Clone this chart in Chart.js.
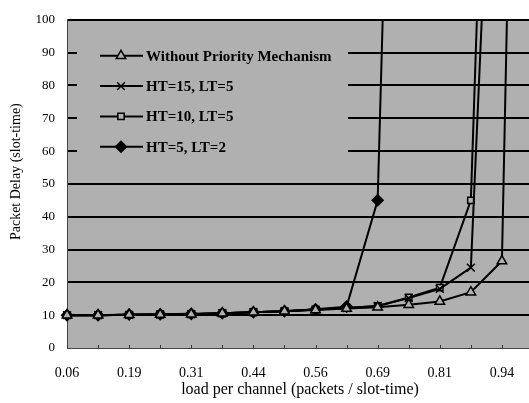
<!DOCTYPE html>
<html>
<head>
<meta charset="utf-8">
<script src="https://cdn.jsdelivr.net/npm/chart.js@4"></script>
<style>
  html, body { margin: 0; padding: 0; background: #fff; overflow: hidden; }
  #wrap { width: 529px; height: 403px; overflow: hidden; }
  /* the plot runs on a little past the right edge, as in the scan */
  #inner { width: 540px; height: 403px; }
</style>
</head>
<body>
<div id="wrap"><div id="inner"><canvas id="chart"></canvas></div></div>
<script>
// load per channel, k/16 for k = 1..16 (every other one is labelled)
const loads = ['0.06', '0.13', '0.19', '0.25', '0.31', '0.38', '0.44', '0.50',
  '0.56', '0.63', '0.69', '0.75', '0.81', '0.88', '0.94', '1.00'];

// packet delay in slot-times (values above 100 run off the top)
const noPriority = [10, 10, 10.1, 10.2, 10.3, 10.6, 10.9, 11.2, 11.6, 12.0, 12.4, 13.2, 14.2, 17.0, 26.5, 485];
const ht15lt5 = [10, 10, 10.1, 10.2, 10.3, 10.6, 10.9, 11.2, 11.7, 12.2, 12.8, 15.2, 18.0, 24.5, 240, null];
const ht10lt5 = [10, 10, 10.1, 10.2, 10.3, 10.6, 10.9, 11.2, 11.7, 12.2, 12.8, 15.4, 18.4, 45, 330, null];
const ht5lt2 = [10, 10, 10.2, 10.3, 10.4, 10.6, 10.9, 11.2, 11.8, 12.6, 45, 386, null, null, null, null];

const seriesNames = ['Without Priority Mechanism', 'HT=15, LT=5', 'HT=10, LT=5', 'HT=5, LT=2'];

const PLOT_BG = '#b0b0b0';
const SERIF = "'Liberation Serif', 'Times New Roman', serif";

function series(label, data, pointStyle, radius, filled) {
  return {
    label,
    data,
    borderColor: '#000',
    borderWidth: 2,
    pointStyle,
    pointRadius: radius,
    pointBorderWidth: 1.5,
    pointBorderColor: '#000',
    pointBackgroundColor: filled ? '#000' : PLOT_BG,
    tension: 0,
    clip: { left: false, top: 0, right: 0, bottom: false },
  };
}

const plotBackground = {
  id: 'plotBackground',
  beforeDraw: function (chart) {
    const a = chart.chartArea;
    const ctx = chart.ctx;
    ctx.save();
    ctx.fillStyle = PLOT_BG;
    ctx.fillRect(a.left, a.top, a.right - a.left, a.bottom - a.top);
    ctx.restore();
  },
  afterDraw: function (chart) {
    // little tick marks along the bottom edge
    const a = chart.chartArea;
    const x = chart.scales.x;
    const ctx = chart.ctx;
    ctx.save();
    ctx.strokeStyle = '#333';
    ctx.lineWidth = 1;
    loads.forEach((v, i) => {
      const px = Math.round(x.getPixelForTick(i)) + 0.5;
      ctx.beginPath();
      ctx.moveTo(px, a.bottom);
      ctx.lineTo(px, a.bottom - 3);
      ctx.stroke();
    });
    ctx.restore();
  }
};

const insideLegend = {
  id: 'insideLegend',
  afterDatasetsDraw: function (chart) {
    const a = chart.chartArea;
    const ctx = chart.ctx;
    const left = a.left + 10;
    const top = a.top + 8;
    ctx.save();
    ctx.fillStyle = PLOT_BG;
    ctx.fillRect(left, top, 271, 140);

    chart.data.datasets.forEach((ds, i) => {
      const y = a.top + 36 + i * 30.3;
      ctx.strokeStyle = '#000';
      ctx.lineWidth = 2;
      ctx.beginPath();
      ctx.moveTo(left + 23, y);
      ctx.lineTo(left + 66, y);
      ctx.stroke();

      ctx.fillStyle = ds.pointBackgroundColor;
      ctx.strokeStyle = '#000';
      ctx.lineWidth = ds.pointBorderWidth;
      Chart.helpers.drawPoint(ctx, {
        pointStyle: ds.pointStyle,
        radius: ds.pointRadius,
        borderWidth: ds.pointBorderWidth,
        rotation: 0,
      }, left + 44, y);

      ctx.fillStyle = '#000';
      ctx.font = 'bold 15px ' + SERIF;
      ctx.textBaseline = 'middle';
      ctx.textAlign = 'left';
      ctx.fillText(ds.label, left + 69, y + 1);
    });
    ctx.restore();
  }
};

new Chart(document.getElementById('chart'), {
  type: 'line',
  data: {
    labels: loads,
    datasets: [
      series(seriesNames[0], noPriority, 'triangle', 5.5, false),
      series(seriesNames[1], ht15lt5, 'crossRot', 5.5, false),
      series(seriesNames[2], ht10lt5, 'rect', 4.5, false),
      series(seriesNames[3], ht5lt2, 'rectRot', 5.5, true),
    ]
  },
  plugins: [plotBackground, insideLegend],
  options: {
    responsive: true,
    maintainAspectRatio: false,
    animation: false,
    layout: { padding: { top: 17, right: 0, left: 0, bottom: 0 } },
    plugins: {
      legend: { display: false },
      tooltip: { enabled: false },
    },
    scales: {
      x: {
        type: 'category',
        offset: false,
        grid: { display: false, drawTicks: false },
        border: { display: true, color: '#444', width: 1 },
        ticks: {
          autoSkip: false,
          maxRotation: 0,
          padding: 17,
          color: '#000',
          font: { family: SERIF, size: 14 },
          callback: (val, i) => (i % 2 === 0 ? loads[i] : ''),
        },
        title: {
          display: true,
          text: 'load per channel (packets / slot-time)',
          color: '#000',
          font: { family: SERIF, size: 16 },
          padding: { top: 1 },
        },
        afterFit: (scale) => {
          scale.height = 55;
          scale.paddingRight = 0;
        },
      },
      y: {
        min: 0,
        max: 100,
        grid: {
          drawTicks: false,
          color: (c) => (c.tick && c.tick.value === 0 ? '#555' : '#000'),
          lineWidth: (c) => (c.tick && c.tick.value === 0 ? 1 : 2),
        },
        border: { display: true, color: '#444', width: 1 },
        ticks: {
          stepSize: 10,
          padding: 12,
          color: '#000',
          font: { family: SERIF, size: 13 },
        },
        title: {
          display: true,
          text: '       Packet Delay (slot-time)',
          color: '#000',
          font: { family: SERIF, size: 14 },
          padding: { top: 8, bottom: 0 },
        },
        afterFit: (scale) => { scale.width = 67; },
      }
    }
  }
});
</script>
</body>
</html>
